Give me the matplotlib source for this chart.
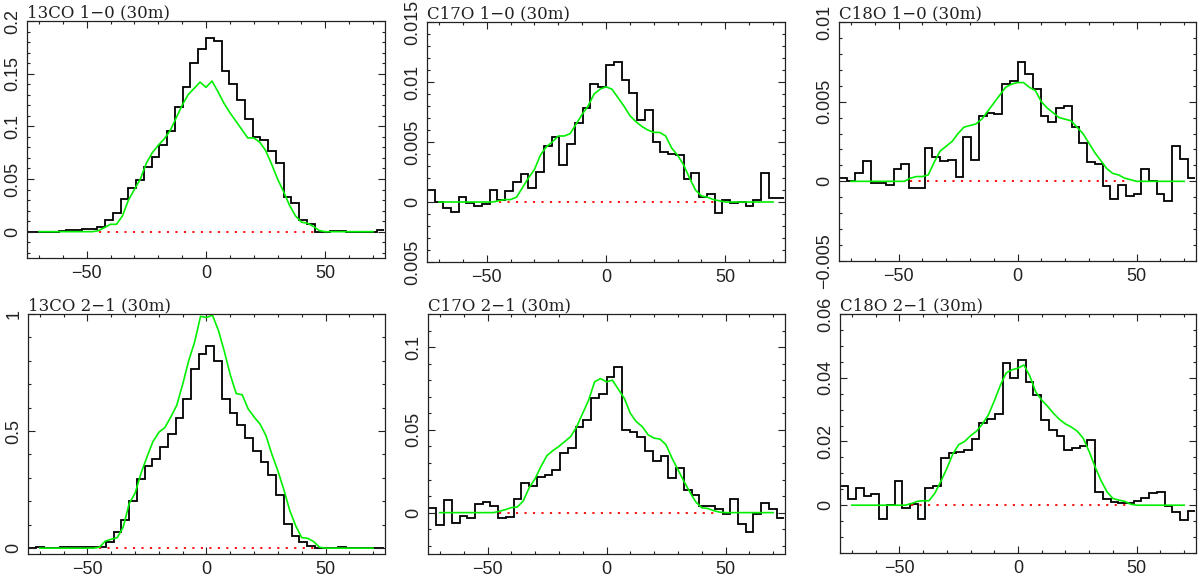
"""Six line profiles: observed spectra (histogram) with model (green)."""
import numpy as np
import matplotlib.pyplot as plt
from matplotlib.ticker import MultipleLocator, FuncFormatter

# channel edges of the observed spectra and velocity grid of the models (km/s)
chan_edges = np.arange(-23, 24) * 3.25
v_model = np.arange(-70, 70.1, 2.5)
v_base = [-45, 47]

titles = ["13CO 1\u22120 (30m)", "C17O 1\u22120 (30m)", "C18O 1\u22120 (30m)",
          "13CO 2\u22121 (30m)", "C17O 2\u22121 (30m)", "C18O 2\u22121 (30m)"]

co13_10_obs = [0.0, 0.0, 0.0, 0.0, 0.0005, 0.0015, 0.002, 0.003, 0.003, 0.004,
               0.011, 0.018, 0.031, 0.041, 0.049, 0.0615, 0.071, 0.082, 0.096, 0.118,
               0.137, 0.160, 0.1735, 0.1836, 0.181, 0.153, 0.140, 0.1246, 0.107, 0.090,
               0.087, 0.077, 0.065, 0.033, 0.027, 0.011, 0.007, 0.0, 0.0, 0.001,
               0.001, 0.0, 0.0, 0.0, 0.0, 0.0015]
c17o_10_obs = [0.0010, 0.0000, -0.0005, -0.0008, 0.0004, -0.0001, -0.0003, -0.0002, 0.0010, 0.0002,
               0.0009, 0.0017, 0.0023, 0.0012, 0.0025, 0.0047, 0.0054, 0.0031, 0.0048, 0.0066,
               0.0078, 0.0098, 0.0096, 0.0114, 0.0117, 0.0102, 0.0091, 0.0068, 0.0077, 0.0050,
               0.0042, 0.0040, 0.0039, 0.0019, 0.0024, 0.0004, 0.0007, -0.0009, 0.0002, -0.0001,
               0.0000, -0.0003, 0.0002, 0.0024, 0.0003, 0.0003]
c18o_10_obs = [0.0002, 0.0000, 0.0005, 0.00125, -0.0001, -0.0001, -0.0002, 0.0008, 0.0011, -0.0004,
               -0.0004, 0.0021, 0.0015, 0.00125, 0.00135, 0.00025, 0.0028, 0.00135, 0.0041, 0.0043,
               0.0042, 0.0061, 0.0063, 0.0075, 0.00675, 0.0058, 0.0041, 0.0037, 0.0046, 0.0047,
               0.0034, 0.0024, 0.0012, 0.0011, -0.0003, -0.0011, -0.0002, -0.0009, -0.0008, 0.0008,
               0.0000, -0.0008, -0.00125, 0.0022, 0.0014, 0.0002]
co13_21_obs = [0.002, 0.004, 0.002, 0.0, 0.003, 0.004, 0.003, 0.003, 0.005, 0.007,
               0.026, 0.069, 0.122, 0.202, 0.294, 0.351, 0.381, 0.434, 0.487, 0.556,
               0.638, 0.764, 0.828, 0.864, 0.800, 0.638, 0.577, 0.527, 0.470, 0.417,
               0.370, 0.312, 0.229, 0.102, 0.050, 0.026, 0.009, 0.0, 0.0, 0.002,
               0.004, 0.001, 0.0, 0.0, 0.002, 0.002]
c17o_21_obs = [0.003, -0.0073, 0.0075, -0.006, -0.002, -0.003, 0.005, 0.0065, 0.004, -0.003,
               -0.0026, 0.0085, 0.018, 0.016, 0.0217, 0.0227, 0.026, 0.036, 0.039, 0.0515,
               0.0558, 0.069, 0.0714, 0.082, 0.088, 0.050, 0.049, 0.0456, 0.0373, 0.031,
               0.034, 0.0207, 0.0268, 0.0136, 0.0105, 0.004, 0.0039, 0.0024, -0.0006, 0.008,
               -0.0067, -0.0118, -0.0006, 0.006, 0.0024, -0.003]
c18o_21_obs = [0.0060, 0.0021, 0.0053, 0.0028, 0.0035, -0.0044, 0.0000, 0.0076, -0.0010, 0.0003,
               -0.0042, 0.0053, 0.0060, 0.0148, 0.0164, 0.0166, 0.0172, 0.0208, 0.0259, 0.0269,
               0.0287, 0.0445, 0.0399, 0.0456, 0.0387, 0.0345, 0.0266, 0.0235, 0.0218, 0.0174,
               0.0179, 0.0187, 0.0204, 0.0041, 0.0019, 0.0011, 0.0008, 0.0007, 0.0014, 0.0024,
               0.0039, 0.0040, -0.0002, -0.0021, -0.0045, -0.0018]

co13_10_mod = [0, 0, 0, 0, 0, 0, 0, 0, 0, 0,
               0.001, 0.004, 0.007, 0.007, 0.015, 0.030, 0.040, 0.050, 0.065, 0.075,
               0.082, 0.088, 0.096, 0.108, 0.120, 0.130, 0.136, 0.142, 0.137, 0.143,
               0.133, 0.122, 0.113, 0.105, 0.097, 0.089, 0.089, 0.085, 0.077, 0.064,
               0.050, 0.038, 0.025, 0.015, 0.009, 0.008, 0.005, 0.001,
               0, 0, 0, 0, 0, 0, 0, 0, 0]
c17o_10_mod = [0, 0, 0, 0, 0, 0, 0, 0, 0, 0,
               0.0001, 0.0002, 0.0002, 0.0004, 0.0012, 0.0020, 0.0027, 0.0039, 0.0046, 0.0050,
               0.0055, 0.0055, 0.0057, 0.0065, 0.0073, 0.0080, 0.0090, 0.0094, 0.0096, 0.0094,
               0.0087, 0.0080, 0.0072, 0.0067, 0.0063, 0.0060, 0.0058, 0.0058, 0.0055, 0.0045,
               0.0039, 0.0031, 0.0020, 0.0010, 0.0005, 0.0004, 0.0002, 0.0001,
               0, 0, 0, 0, 0, 0, 0, 0, 0]
c18o_10_mod = [0, 0, 0, 0, 0, 0, 0, 0, 0, 0,
               0.0002, 0.0003, 0.0003, 0.0004, 0.0012, 0.0019, 0.0022, 0.0025, 0.0030, 0.0034,
               0.0035, 0.0036, 0.0039, 0.0044, 0.0049, 0.0054, 0.0059, 0.0061, 0.0062, 0.0062,
               0.0059, 0.0057, 0.0050, 0.0046, 0.0043, 0.0040, 0.0039, 0.0038, 0.0034, 0.0030,
               0.0024, 0.0018, 0.0013, 0.0008, 0.0005, 0.0004, 0.0002, 0.0001,
               0, 0, 0, 0, 0, 0, 0, 0, 0]
co13_21_mod = [0, 0, 0, 0, 0, 0, 0, 0, 0, 0,
               0.004, 0.030, 0.038, 0.045, 0.090, 0.190, 0.235, 0.320, 0.390, 0.455,
               0.495, 0.515, 0.560, 0.610, 0.700, 0.800, 0.880, 0.990, 0.985, 0.995,
               0.930, 0.840, 0.740, 0.660, 0.655, 0.595, 0.560, 0.530, 0.480, 0.400,
               0.330, 0.250, 0.160, 0.095, 0.045, 0.042, 0.028, 0.004,
               0, 0, 0, 0, 0, 0, 0, 0, 0]
c17o_21_mod = [0, 0, 0, 0, 0, 0, 0, 0, 0, 0,
               0.0008, 0.0018, 0.0030, 0.0034, 0.0070, 0.0150, 0.0205, 0.0280, 0.0345, 0.0375,
               0.0400, 0.0430, 0.0460, 0.0520, 0.0600, 0.0680, 0.0790, 0.0810, 0.0790, 0.0800,
               0.0745, 0.0690, 0.0600, 0.0550, 0.0520, 0.0470, 0.0450, 0.0444, 0.0410, 0.0330,
               0.0260, 0.0190, 0.0125, 0.0065, 0.0030, 0.0025, 0.0012, 0.0003,
               0, 0, 0, 0, 0, 0, 0, 0, 0]
c18o_21_mod = [0, 0, 0, 0, 0, 0, 0, 0, 0, 0,
               0.0005, 0.0012, 0.0014, 0.0014, 0.0038, 0.0075, 0.0115, 0.0160, 0.0190, 0.0200,
               0.0218, 0.0232, 0.0255, 0.0283, 0.0327, 0.0375, 0.0415, 0.0425, 0.0430, 0.0440,
               0.0405, 0.0355, 0.0330, 0.0310, 0.0288, 0.0269, 0.0255, 0.0245, 0.0232, 0.0210,
               0.0168, 0.0120, 0.0077, 0.0042, 0.0021, 0.0016, 0.0012, 0.0003,
               0, 0, 0, 0, 0, 0, 0, 0, 0]

obs = [co13_10_obs, c17o_10_obs, c18o_10_obs, co13_21_obs, c17o_21_obs, c18o_21_obs]
mod = [co13_10_mod, c17o_10_mod, c18o_10_mod, co13_21_mod, c17o_21_mod, c18o_21_mod]

# axes boxes in pixels (left, top, right, bottom), y-limits and y tick steps
W, H = 1200, 579
boxes = [(27, 21, 385, 258), (427, 22, 785, 262), (839, 22, 1196, 261),
         (28, 314, 385, 554), (428, 314, 785, 554), (840, 314, 1196, 553)]
ylims = [(-0.025, 0.2), (-0.005, 0.015), (-0.005, 0.01),
         (-0.025, 1.0), (-0.025, 0.12), (-0.015, 0.06)]
ymajor = [0.05, 0.005, 0.005, 0.5, 0.05, 0.02]
yminor = [0.01, 0.001, 0.001, 0.1, 0.01, 0.005]

tick_font = {'family': 'Liberation Sans', 'size': 13}


def fmt(x, pos, keep_minus=True):
    if abs(x) < 1e-12:
        return "0"
    s = "%g" % round(x, 6)
    if s.startswith("-"):
        s = ("\u2212" + s[1:]) if keep_minus else s[1:]
    return s


fig = plt.figure(figsize=(W / 100, H / 100), dpi=100)

for i in range(6):
    l, t, r, b = boxes[i]
    ax = fig.add_axes([l / W, 1 - b / H, (r - l) / W, (b - t) / H])

    ax.plot(v_base, [0, 0], color='red', ls=(0, (1.2, 3.5)), lw=1.3)
    ax.stairs(obs[i], chan_edges, baseline=None, color='black', lw=1.3)
    ax.plot(v_model, mod[i], color='#00f000', lw=1.2)

    ax.set_xlim(-75, 75)
    ax.set_ylim(*ylims[i])
    ax.xaxis.set_major_locator(MultipleLocator(50))
    ax.xaxis.set_minor_locator(MultipleLocator(10))
    ax.yaxis.set_major_locator(MultipleLocator(ymajor[i]))
    ax.yaxis.set_minor_locator(MultipleLocator(yminor[i]))
    ax.xaxis.set_major_formatter(FuncFormatter(fmt))
    # the C17O 1-0 panel shows its lowest label without a minus sign
    ax.yaxis.set_major_formatter(FuncFormatter(
        lambda x, p, k=(i != 1): fmt(x, p, k)))

    ax.tick_params(which='both', direction='in', top=True, right=True,
                   width=0.8, color='#222222')
    ax.tick_params(which='major', length=5)
    ax.tick_params(which='minor', length=2.5)
    ax.tick_params(axis='x', pad=5)
    ax.tick_params(axis='y', pad=4, labelrotation=90)
    for lab in ax.get_xticklabels() + ax.get_yticklabels():
        lab.set_fontfamily(tick_font['family'])
        lab.set_fontsize(tick_font['size'])
        lab.set_color('#222222')
    for lab in ax.get_yticklabels():
        lab.set_va('center')
    for sp in ax.spines.values():
        sp.set_linewidth(0.9)
        sp.set_color('#222222')

    ax.set_title(titles[i], loc='left', pad=2, fontsize=12,
                 fontfamily='DejaVu Serif', color='#222222')

fig.savefig('out.png', dpi=100)
